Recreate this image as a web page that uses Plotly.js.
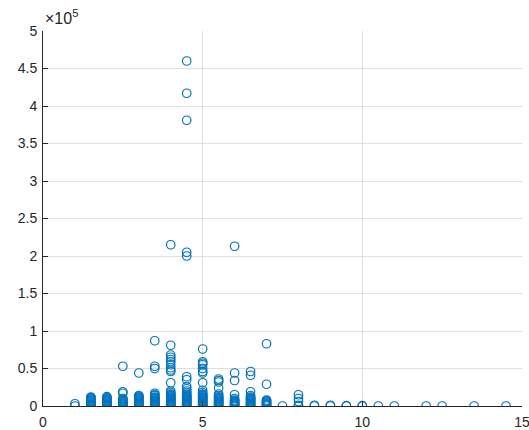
<!DOCTYPE html>
<html>
<head>
<meta charset="utf-8">
<script src="https://cdn.plot.ly/plotly-3.0.1.min.js"></script>
<style>
  html, body { margin: 0; padding: 0; background: #ffffff; }
  #chart { width: 529px; height: 430px; }
</style>
</head>
<body>
<div id="chart"></div>
<script>
// Column positions on the x axis
const xPositions = [1, 1.5, 2, 2.5, 3, 3.5, 4, 4.5, 5, 5.5, 6, 6.5, 7, 7.5, 8, 8.5, 9, 9.5, 10, 10.5, 11, 12, 12.5, 13.5, 14.5];

// Observed values in each column
const yByColumn = [
  [0, 3000],
  [0, 500, 1000, 2000, 3000, 4000, 5000, 6000, 7000, 8000, 9000, 10000, 11000, 12000],
  [0, 500, 1000, 2000, 3000, 4000, 5000, 6000, 7000, 8000, 9000, 10000, 11000, 12500],
  [0, 1000, 2000, 3000, 4000, 5000, 6000, 7000, 8000, 9000, 10000, 17000, 19000, 53000],
  [0, 1000, 2000, 3000, 4000, 5000, 6000, 7000, 8000, 9000, 10000, 11000, 12000, 13000, 14000, 44000],
  [0, 1000, 2000, 3000, 4000, 5000, 6000, 7000, 8000, 9000, 10000, 11000, 12000, 14000, 15000, 17000, 50000, 53000, 87000],
  [0, 1000, 2000, 3000, 4000, 5000, 6000, 7000, 8000, 9000, 10000, 11000, 12000, 13000, 14000, 15000, 16000, 18000, 20000, 31000, 46000, 48000, 51000, 55000, 59000, 62000, 65000, 68000, 81000, 215000],
  [0, 1000, 2000, 3000, 4000, 5000, 6000, 7000, 8000, 9000, 10000, 11000, 12000, 13000, 14000, 16000, 18000, 20000, 23000, 26000, 35000, 39000, 200000, 205000, 381000, 417000, 460000],
  [0, 1000, 2000, 3000, 4000, 5000, 6000, 7000, 8000, 9000, 10000, 11000, 12000, 13000, 14000, 15000, 16000, 18000, 21000, 31000, 44000, 46000, 50000, 55000, 57000, 59000, 76000],
  [0, 1000, 2000, 3000, 4000, 5000, 6000, 7000, 8000, 9000, 10000, 11000, 12000, 14000, 16000, 24000, 32000, 34000, 36000],
  [0, 1000, 2000, 3000, 4000, 5000, 6000, 7000, 8000, 10000, 15000, 34000, 44000, 213000],
  [0, 1000, 2000, 3000, 4000, 5000, 6000, 7000, 8000, 9000, 10000, 11000, 12000, 14000, 19000, 41000, 46000],
  [0, 1000, 2000, 3000, 4000, 5000, 6000, 7000, 8000, 29000, 83000],
  [0],
  [0, 1000, 6000, 10000, 15000],
  [0, 1000],
  [0, 1000],
  [0, 500],
  [0, 500],
  [0],
  [0],
  [0],
  [0],
  [0],
  [0]
];

// Axis tick positions and their labels (values shown in units of 10^5)
const xTicks = [0, 5, 10, 15];
const yTicks = [0, 50000, 100000, 150000, 200000, 250000, 300000, 350000, 400000, 450000, 500000];
const yTickText = ['0', '0.5', '1', '1.5', '2', '2.5', '3', '3.5', '4', '4.5', '5'];

const xs = [];
const ys = [];
xPositions.forEach(function (xv, i) {
  yByColumn[i].forEach(function (yv) {
    xs.push(xv);
    ys.push(yv);
  });
});

const axisColor = '#262626';
const gridColor = '#dfdfdf';
const fontFamily = 'Liberation Sans, Arial, Helvetica, sans-serif';

const trace = {
  type: 'scatter',
  mode: 'markers',
  x: xs,
  y: ys,
  marker: {
    symbol: 'circle-open',
    size: 8.5,
    color: '#0072BD',
    line: { width: 1.2, color: '#0072BD' }
  },
  hoverinfo: 'x+y'
};

const layout = {
  width: 529,
  height: 430,
  margin: { l: 43, r: 7, t: 31, b: 24 },
  paper_bgcolor: '#ffffff',
  plot_bgcolor: '#ffffff',
  showlegend: false,
  font: { family: fontFamily, size: 13, color: axisColor },
  xaxis: {
    range: [0, 15],
    tickvals: xTicks,
    ticktext: xTicks.map(String),
    ticks: 'inside',
    ticklen: 5,
    tickwidth: 1,
    tickcolor: axisColor,
    ticklabeloverflow: 'allow',
    ticklabelstandoff: 3,
    showline: true,
    linecolor: axisColor,
    linewidth: 1,
    showgrid: true,
    gridcolor: gridColor,
    gridwidth: 1,
    zeroline: false,
    mirror: false,
    tickfont: { family: fontFamily, size: 14, color: axisColor }
  },
  yaxis: {
    range: [0, 500000],
    tickvals: yTicks,
    ticktext: yTickText,
    ticks: 'inside',
    ticklen: 5,
    tickwidth: 1,
    tickcolor: axisColor,
    ticklabelstandoff: 2,
    showline: true,
    linecolor: axisColor,
    linewidth: 1,
    showgrid: true,
    gridcolor: gridColor,
    gridwidth: 1,
    zeroline: false,
    mirror: false,
    tickfont: { family: fontFamily, size: 14, color: axisColor }
  },
  annotations: [{
    text: '\u00d710<sup>5</sup>',
    xref: 'paper',
    yref: 'paper',
    x: 0,
    y: 1,
    xanchor: 'left',
    yanchor: 'bottom',
    xshift: 0,
    yshift: 2,
    showarrow: false,
    font: { family: fontFamily, size: 16, color: axisColor }
  }]
};

Plotly.newPlot('chart', [trace], layout, { staticPlot: true, displayModeBar: false });
</script>
</body>
</html>
